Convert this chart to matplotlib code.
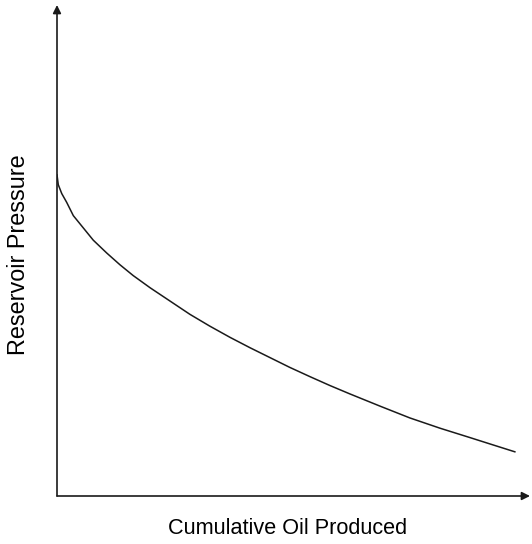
import matplotlib
matplotlib.use("Agg")
import matplotlib.pyplot as plt

# curve (arbitrary units, 0..100 on both axes)
cum_oil = [0.0, 0.27, 1.0, 2.05, 3.45, 5.56, 7.67, 10.5, 13.3, 16.1, 19.7,
           23.9, 28.1, 32.3, 36.6, 40.8, 45.0, 49.2, 53.5, 57.7, 61.9, 68.3,
           74.6, 81.0, 87.3, 92.2, 96.8]
pressure = [65.4, 63.4, 61.6, 59.8, 57.1, 54.6, 52.1, 49.5, 47.1, 44.9, 42.4,
            39.7, 37.0, 34.6, 32.3, 30.2, 28.2, 26.2, 24.3, 22.5, 20.8, 18.3,
            15.9, 13.8, 11.9, 10.4, 9.0]

x_label = "Cumulative Oil Produced"
y_label = "Reservoir Pressure"

plt.rcParams['font.family'] = ['Liberation Sans', 'DejaVu Sans']

fig = plt.figure(figsize=(5.32, 5.44), dpi=100)
ax = fig.add_axes([57/532, 48/544, (530-57)/532, (496-5)/544])

ax.plot(cum_oil, pressure, color='#1a1a1a', lw=1.1)

ax.set_xlim(0, 100)
ax.set_ylim(0, 100)

# axes drawn as arrows
for s in ax.spines.values():
    s.set_visible(False)
ax.annotate('', xy=(0, 1), xytext=(0, 0), xycoords='axes fraction',
            arrowprops=dict(arrowstyle='-|>', color='#1a1a1a', lw=1.2,
                            mutation_scale=12, shrinkA=0, shrinkB=0))
ax.annotate('', xy=(1, 0), xytext=(0, 0), xycoords='axes fraction',
            arrowprops=dict(arrowstyle='-|>', color='#1a1a1a', lw=1.2,
                            mutation_scale=12, shrinkA=0, shrinkB=0))

ax.set_xticks([])
ax.set_yticks([])

fig.text((168+408)/2/532, 1-528/544, x_label, ha='center', va='center', fontsize=15.6)
fig.text(19/532, 1-255/544, y_label, ha='center', va='center', rotation=90, fontsize=16.8)

fig.savefig("out.png", dpi=100)
